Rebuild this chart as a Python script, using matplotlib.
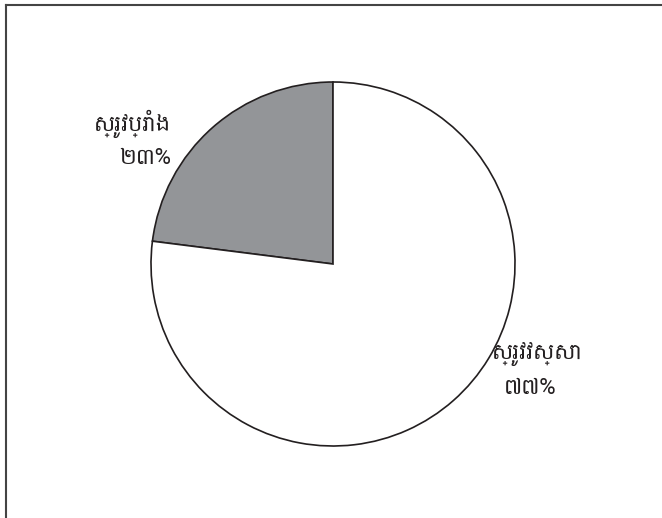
import matplotlib
matplotlib.use("Agg")
import matplotlib.pyplot as plt
from matplotlib import font_manager
from matplotlib.lines import Line2D

# rice area shares: dry season vs wet season
labels = ['ស្រូវប្រាំង', 'ស្រូវវស្សា']
pct_labels = ['២៣%', '៧៧%']
values = [23, 77]
colors = ['#939598', 'white']

# look for something that can draw Khmer, otherwise fall back
fams = []
for f in font_manager.fontManager.ttflist:
    if 'khmer' in f.name.lower() or 'hanuman' in f.name.lower():
        fams.append(f.name)
fams = sorted(set(fams)) + ['DejaVu Sans']

fig = plt.figure(figsize=(6.62, 5.18), dpi=100)
ax = fig.add_axes([0, 0, 1, 1])
ax.set_xlim(0, 662)
ax.set_ylim(0, 518)
ax.set_aspect('equal')
ax.axis('off')

ax.pie(values, colors=colors, startangle=90, counterclock=True,
       center=(333, 254), radius=182,
       wedgeprops=dict(edgecolor='#231f20', linewidth=1.2))
ax.set_xlim(0, 662)
ax.set_ylim(0, 518)

# text labels beside the slices
ax.text(132, 394, labels[0], ha='center', va='center', fontsize=16, family=fams, color='#231f20')
ax.text(145, 360, pct_labels[0], ha='center', va='center', fontsize=16, family=fams, color='#231f20')
ax.text(537, 164, labels[1], ha='center', va='center', fontsize=16, family=fams, color='#231f20')
ax.text(530, 130, pct_labels[1], ha='center', va='center', fontsize=16, family=fams, color='#231f20')

# frame of the original figure (only top and left are in view)
fig.add_artist(Line2D([6 / 662, 1], [1 - 5 / 518, 1 - 5 / 518], color='#444444', linewidth=1.5))
fig.add_artist(Line2D([6 / 662, 6 / 662], [0, 1 - 5 / 518], color='#444444', linewidth=1.5))

fig.savefig('out.png', dpi=100)
